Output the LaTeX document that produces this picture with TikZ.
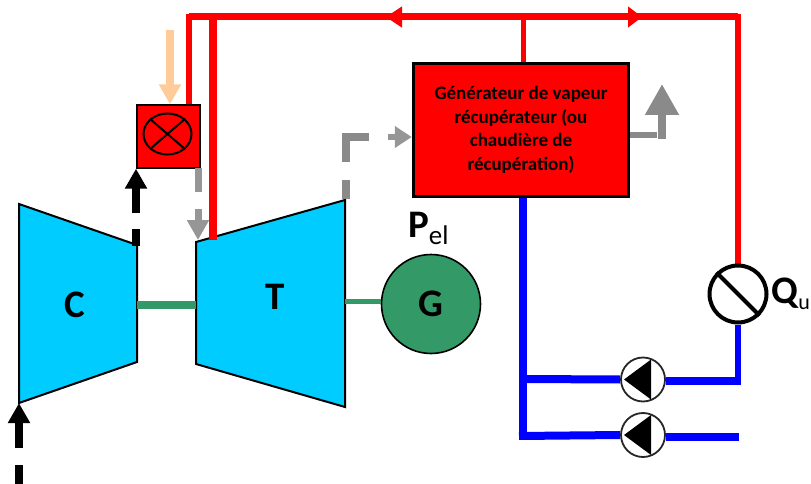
\documentclass[tikz,border=0pt]{standalone}
\usepackage{fontspec}
\setmainfont{Carlito}
\usetikzlibrary{arrows.meta,shapes.geometric,calc}
\definecolor{cyanT}{HTML}{00CCFF}
\definecolor{greenS}{HTML}{339966}
\definecolor{grayA}{HTML}{969696}
\definecolor{grayB}{HTML}{8A8A8A}
\definecolor{peach}{HTML}{FFCC99}
\definecolor{redL}{HTML}{FF0000}
\definecolor{blueL}{HTML}{0000FF}
\tikzset{
  turbo/.style={draw=black,line width=2pt,fill=cyanT,line join=miter},
  shaft/.style={draw=greenS},
  hot/.style={draw=redL,line join=round},
  cold/.style={draw=blueL,line cap=butt,line join=miter},
  bigtext/.style={font=\fontsize{39}{39}\selectfont\bfseries,inner sep=0pt},
  pumpnode/.style={circle,draw=black!85,line width=1.8pt,fill=white,minimum size=44pt,inner sep=0pt},
  flowtip/.style={-{Triangle[length=20pt,width=21pt]}},
}
\begin{document}
\begin{tikzpicture}[x=1pt,y=-1pt]
\useasboundingbox (0,0) rectangle (811,484);
% coordinates
\coordinate (cin) at (19,403);
\coordinate (cstart) at (19,484);
\coordinate (cout) at (136,246);
\coordinate (cshaft) at (137,305);
\coordinate (tshaftL) at (196,305);
\coordinate (tshaftR) at (345,301);
\coordinate (texit) at (346,199);
\coordinate (tcorner) at (346,137);
\coordinate (tinlet) at (198,240);
\coordinate (tred) at (213,240);
\coordinate (topL) at (189,17);
\coordinate (topR) at (738,17);
\coordinate (topM) at (213,17);
\coordinate (topB) at (523,17);
\coordinate (arrL) at (386,17);
\coordinate (arrR) at (642,17);
\coordinate (peachS) at (170,30);
\coordinate (stackC) at (662,135);
\coordinate (stackT) at (662,84);
\coordinate (bJ1) at (523,379);
\coordinate (bJ2) at (523,436);
\coordinate (bR1) at (738,381);
\coordinate (bR2) at (739,437);
% hot lines
\draw[hot,line width=7pt] (topL) -- (topR);
\draw[hot,line width=6pt] (189,14) -- (189,106);
\draw[hot,line width=8pt] (topM) -- (tred);
\draw[hot,line width=6pt] (738,14) -- (738,268);
% turbomachines
\draw[turbo] (19,204) -- (137,245) -- (137,362) -- (19,403) -- cycle;
\draw[turbo] (196,242) -- (345,200) -- (345,407) -- (196,364) -- cycle;
\draw[hot,line width=8pt] (213,200) -- (tred);
\node[bigtext] (lc) at (75,305) {C};
\node[bigtext] (lt) at (275,297) {T};
% generator
\node[circle,draw=black,line width=1.6pt,fill=greenS,minimum size=99pt,inner sep=0pt] (G) at (431,304) {};
\node[bigtext] (lg) at (G.center) {G};
\draw[shaft,line width=8pt] (cshaft) -- (tshaftL);
\draw[shaft,line width=5pt] (tshaftR) -- (tshaftR-|G.west);
\node[bigtext,anchor=base west] (pel) at (408,237) {P\raisebox{-7pt}{\fontsize{27}{27}\selectfont\mdseries el}};
% recovery boiler
\node[draw=black,line width=3.5pt,fill=redL,minimum width=215pt,minimum height=133pt,inner sep=0pt,
  font=\fontsize{19}{23.5}\selectfont\bfseries,align=center] (hrsg) at (521,130)
  {\raisebox{-1.5pt}{Générateur de vapeur}\\\raisebox{-1.5pt}{récupérateur (ou}\\\raisebox{-1.5pt}{chaudière de}\\\raisebox{-1.5pt}{récupération)}};
\draw[hot,line width=5pt] (topB) -- (hrsg.north-|topB);
\draw[-{Triangle[length=16pt,width=21pt]},redL,line width=1pt] (402,17) -- (arrL);
\draw[-{Triangle[length=14pt,width=21pt]},redL,line width=1pt] (628,17) -- (arrR);
% combustor
\node[draw=black,line width=1.2pt,fill=redL,minimum size=63pt,inner sep=0pt] (comb) at (168.5,136.5) {};
\node[ellipse,draw=black,line width=2pt,minimum width=48pt,minimum height=41pt,inner sep=0pt] (burn) at (167.5,134) {};
\draw[black,line width=2pt] (burn.north west) -- (burn.south east);
\draw[black,line width=2pt] (burn.north east) -- (burn.south west);
% arrows
\draw[flowtip,peach,line width=8pt] (peachS) -- (comb.north-|peachS);
\draw[flowtip,black,line width=8pt,dash pattern=on 17pt off 16pt on 60pt] (cout) -- (cout|-comb.south);
\draw[flowtip,black,line width=8pt,dash pattern=on 19pt off 17pt on 60pt] (cstart) -- (cin);
\draw[flowtip,grayA,line width=7pt,dash pattern=on 24pt off 17pt on 60pt] (198,168) -- (tinlet);
\draw[grayB,line width=8pt,dash pattern=on 19pt off 18pt on 26pt] (texit) -- (tcorner);
\draw[grayB,line width=8pt] (342,137) -- (369,137);
\draw[grayA,line width=6pt] (388,137) -- (396,137);
\draw[-{Triangle[length=17pt,width=21pt]},grayA,line width=6pt] (394,137) -- (hrsg.west|-tcorner);
\draw[grayB,line width=6pt] (hrsg.east|-stackC) -- (657,135);
\draw[-{Triangle[length=31pt,width=32pt]},grayB,line width=8pt] (662,139) -- (stackT);
% heat consumer
\node[circle,draw=black,line width=4pt,fill=white,minimum size=57pt,inner sep=0pt] (Q) at (738,294) {};
\draw[black,line width=4pt] (Q.135) -- (Q.-45);
\node[bigtext,anchor=base west] (qu) at (771.5,303) {Q\raisebox{-6pt}{\fontsize{22}{22}\selectfont\mdseries u}};
% pumps
\node[pumpnode] (p1) at (643,379.5) {};
\node[pumpnode] (p2) at (643,435) {};
\foreach \p in {p1,p2}{
  \fill[black] ([xshift=-19pt]\p.center) -- ([xshift=8pt,yshift=20pt]\p.center) -- ([xshift=8pt,yshift=-20pt]\p.center) -- cycle;
}
% cold lines
\draw[cold,line width=8pt] (hrsg.south-|topB) -- (523,440);
\draw[cold,line width=8pt] (bJ1) -- (p1.west);
\draw[cold,line width=8pt] (519,436) -- (p2.west);
\draw[cold,line width=8pt] (p1.east|-bR1) -- (741,381);
\draw[cold,line width=6pt] (Q.south) -- (738,385);
\draw[cold,line width=8pt] (p2.east|-bR2) -- (bR2);
\end{tikzpicture}
\end{document}
